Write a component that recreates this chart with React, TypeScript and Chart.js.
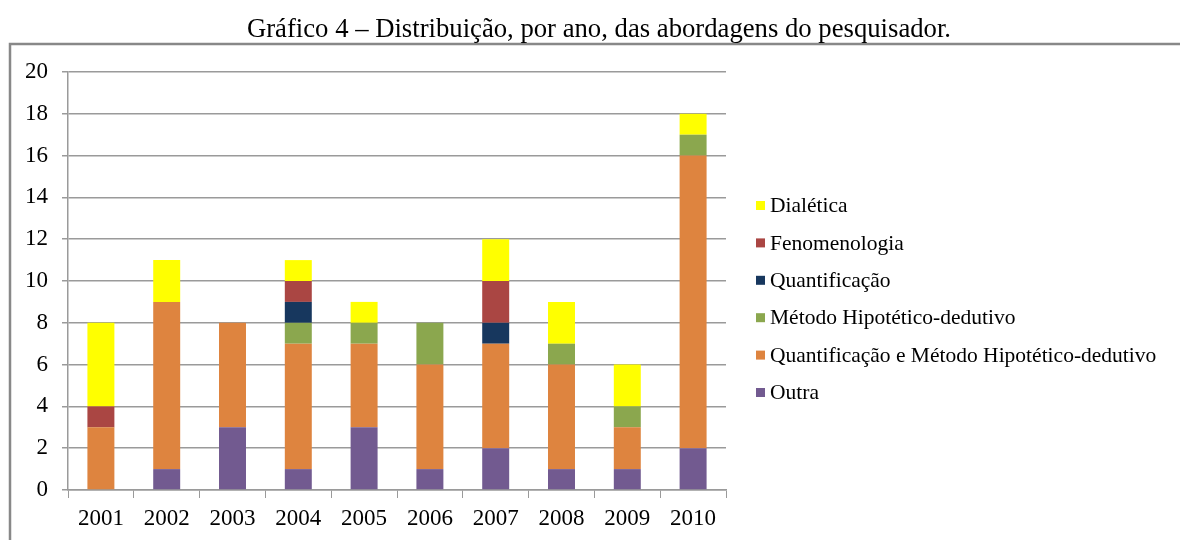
import React, { useEffect, useRef } from "react";
import { Chart, registerables } from "chart.js";

Chart.register(...registerables);

const years = ["2001", "2002", "2003", "2004", "2005", "2006", "2007", "2008", "2009", "2010"];
const outra = [0, 1, 3, 1, 3, 1, 2, 1, 1, 2];
const quantMetodo = [3, 8, 5, 6, 4, 5, 5, 5, 2, 14];
const metodo = [0, 0, 0, 1, 1, 2, 0, 1, 1, 1];
const quantificacao = [0, 0, 0, 1, 0, 0, 1, 0, 0, 0];
const fenomenologia = [1, 0, 0, 1, 0, 0, 2, 0, 0, 0];
const dialetica = [4, 2, 0, 1, 1, 0, 2, 2, 2, 1];
const yTicks = [0, 2, 4, 6, 8, 10, 12, 14, 16, 18, 20];

const seriesNames = [
  "Outra",
  "Quantificação e Método Hipotético-dedutivo",
  "Método Hipotético-dedutivo",
  "Quantificação",
  "Fenomenologia",
  "Dialética",
];
const seriesColors = ["#725A90", "#DE843F", "#8BA74E", "#17375E", "#AA4643", "#FFFF00"];
const seriesData = [outra, quantMetodo, metodo, quantificacao, fenomenologia, dialetica];

const TITLE = "Gráfico 4 – Distribuição, por ano, das abordagens do pesquisador.";
const FONT = "'Liberation Serif', 'Times New Roman', serif";
const GRID = "#9A9A9A";

const decorPlugin = {
  id: "decor",
  afterDraw(chart: any) {
    const ctx = chart.ctx;
    ctx.save();
    // frame
    ctx.strokeStyle = "#888888";
    ctx.lineWidth = 2.5;
    ctx.beginPath();
    ctx.moveTo(10, 600);
    ctx.lineTo(10, 44);
    ctx.lineTo(1200, 44);
    ctx.stroke();
    // title
    ctx.fillStyle = "#000";
    ctx.font = `26.7px ${FONT}`;
    ctx.textAlign = "center";
    ctx.textBaseline = "alphabetic";
    ctx.fillText(TITLE, 599, 37);
    // legend (reverse order: top = last series)
    ctx.font = `21.5px ${FONT}`;
    ctx.textAlign = "left";
    ctx.textBaseline = "middle";
    const n = seriesNames.length;
    for (let i = 0; i < n; i++) {
      const idx = n - 1 - i;
      const cy = 205.5 + i * 37.4;
      ctx.fillStyle = seriesColors[idx];
      ctx.fillRect(756, cy - 4.5, 9, 9);
      ctx.fillStyle = "#000";
      ctx.fillText(seriesNames[idx], 770, cy + 1);
    }
    ctx.restore();
  },
};

export default function App() {
  const ref = useRef<HTMLCanvasElement | null>(null);
  useEffect(() => {
    if (!ref.current) return;
    const chart = new Chart(ref.current, {
      type: "bar",
      data: {
        labels: years,
        datasets: seriesData.map((d, i) => ({
          label: seriesNames[i],
          data: d,
          backgroundColor: seriesColors[i],
          borderWidth: 0,
          barPercentage: 0.41,
          categoryPercentage: 1,
        })),
      },
      options: {
        animation: false,
        responsive: false,
        layout: { padding: { left: 0, top: 72, right: 454, bottom: 0 } },
        plugins: {
          legend: { display: false },
          title: { display: false },
          tooltip: { enabled: false },
        },
        scales: {
          x: {
            stacked: true,
            grid: {
              display: true,
              drawOnChartArea: false,
              drawTicks: true,
              tickLength: 8,
              color: GRID,
              offset: true,
            },
            border: { display: true, color: GRID, width: 1.5 },
            ticks: {
              color: "#000",
              font: { family: FONT, size: 23 },
              padding: 7,
              maxRotation: 0,
            },
            afterFit: (s: any) => {
              s.height = 50;
            },
          },
          y: {
            stacked: true,
            min: 0,
            max: 20,
            afterBuildTicks: (s: any) => {
              s.ticks = yTicks.map((v) => ({ value: v }));
            },
            grid: { color: GRID, tickLength: 6, drawTicks: true, lineWidth: 1.5 },
            border: { display: true, color: GRID, width: 1.5 },
            ticks: {
              color: "#000",
              font: { family: FONT, size: 23 },
              padding: 14,
            },
            afterFit: (s: any) => {
              s.width = 68;
            },
          },
        },
      },
      plugins: [decorPlugin],
    });
    return () => chart.destroy();
  }, []);
  return (
    <div style={{ position: "fixed", left: 0, top: 0, width: 1180, height: 540, background: "#fff" }}>
      <canvas ref={ref} width={1180} height={540} style={{ width: 1180, height: 540, display: "block" }} />
    </div>
  );
}
